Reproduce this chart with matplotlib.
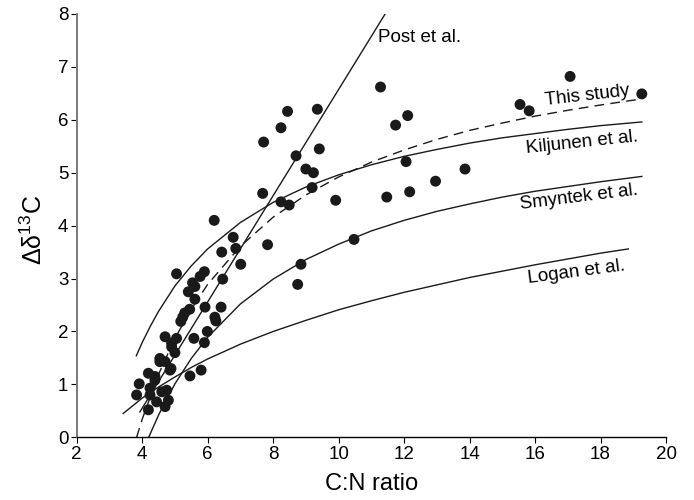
import matplotlib
matplotlib.use("Agg")
import matplotlib.pyplot as plt

cn_obs = [11.28, 8.44, 9.35, 8.24, 7.71, 12.11, 11.74, 9.41, 8.70, 9.00, 9.23,
          12.06, 13.86, 12.96, 12.17, 11.47, 9.19, 7.68, 8.24, 8.49, 9.91,
          6.78, 6.86, 6.43, 7.83, 7.01, 10.47, 8.85, 8.75, 6.46, 6.41,
          17.07, 19.26, 15.54, 15.82, 6.20,
          5.05, 5.90, 5.77, 5.54, 5.61, 5.41, 5.61, 5.92, 5.24, 5.18, 6.22, 6.25,
          5.30, 5.45, 5.99, 5.90, 5.58, 4.70, 5.05, 4.90, 4.90, 5.00, 4.54, 4.70,
          4.54, 4.88, 4.85, 4.19, 4.39, 4.39, 5.46, 5.80, 3.91, 3.83, 4.24, 4.19,
          4.70, 4.60, 4.80, 4.44, 4.24, 4.75]
d13c_obs = [6.62, 6.16, 6.20, 5.85, 5.58, 6.08, 5.90, 5.45, 5.32, 5.07, 5.00,
            5.21, 5.07, 4.84, 4.64, 4.54, 4.72, 4.61, 4.45, 4.39, 4.48,
            3.78, 3.57, 3.50, 3.64, 3.27, 3.74, 3.27, 2.89, 2.99, 2.46,
            6.82, 6.49, 6.29, 6.17, 4.10,
            3.09, 3.13, 3.04, 2.92, 2.85, 2.75, 2.61, 2.46, 2.27, 2.19, 2.27, 2.20,
            2.35, 2.42, 2.00, 1.79, 1.87, 1.90, 1.87, 1.78, 1.71, 1.60, 1.49, 1.43,
            1.43, 1.30, 1.27, 1.21, 1.15, 1.08, 1.16, 1.27, 1.01, 0.80, 0.80, 0.52,
            0.58, 0.86, 0.70, 0.67, 0.93, 0.89]

# model curves, points
post_cn = [3.93, 11.42]
post_d = [0.48, 8.0]

study_cn = [3.83, 4.0, 4.5, 5.0, 5.5, 6.0, 7.0, 8.0, 9.0, 10.0, 11.0, 12.0,
            13.0, 14.0, 15.0, 16.0, 17.0, 18.0, 19.2]
study_d = [0.0, 0.34, 1.19, 1.87, 2.42, 2.89, 3.61, 4.16, 4.58, 4.92, 5.20,
           5.43, 5.63, 5.80, 5.94, 6.07, 6.18, 6.28, 6.39]

kil_cn = [3.82, 4.0, 4.25, 4.5, 5.0, 5.5, 6.0, 7.0, 8.0, 9.0, 10.0, 11.0,
          12.0, 13.0, 14.0, 15.0, 16.0, 17.0, 18.0, 19.26]
kil_d = [1.54, 1.79, 2.10, 2.38, 2.86, 3.24, 3.56, 4.06, 4.44, 4.73, 4.96,
         5.15, 5.31, 5.44, 5.56, 5.66, 5.74, 5.82, 5.89, 5.96]

smy_cn = [4.2, 4.5, 5.0, 5.5, 6.0, 7.0, 8.0, 9.0, 10.0, 11.0, 12.0, 13.0,
          14.0, 15.0, 16.0, 17.0, 18.0, 19.26]
smy_d = [0.0, 0.42, 1.01, 1.49, 1.89, 2.52, 2.99, 3.36, 3.65, 3.90, 4.10,
         4.27, 4.41, 4.54, 4.65, 4.74, 4.83, 4.93]

log_cn = [3.42, 4.0, 4.5, 5.0, 5.5, 6.0, 7.0, 8.0, 9.0, 10.0, 11.0, 12.0,
          13.0, 14.0, 15.0, 16.0, 17.0, 18.0, 18.85]
log_d = [0.45, 0.74, 0.95, 1.14, 1.32, 1.48, 1.76, 2.00, 2.21, 2.41, 2.58,
         2.74, 2.88, 3.02, 3.14, 3.26, 3.37, 3.48, 3.56]

plt.rcParams["font.family"] = ["Liberation Sans", "DejaVu Sans"]
plt.rcParams["mathtext.fontset"] = "custom"
plt.rcParams["mathtext.rm"] = "Liberation Sans"
plt.rcParams["mathtext.it"] = "Liberation Sans:italic"

fig = plt.figure(figsize=(6.94, 5.0), dpi=100)
ax = fig.add_axes([0.1105, 0.1254, 0.8492, 0.8466])

lw = 1.0
ax.plot(post_cn, post_d, color="#1a1a1a", lw=lw)
ax.plot(study_cn, study_d, color="#1a1a1a", lw=lw, linestyle=(0, (7, 4.5)))
ax.plot(kil_cn, kil_d, color="#1a1a1a", lw=lw)
ax.plot(smy_cn, smy_d, color="#1a1a1a", lw=lw)
ax.plot(log_cn, log_d, color="#1a1a1a", lw=lw)
ax.scatter(cn_obs, d13c_obs, s=62, color="#1a1a1a", edgecolors="none", zorder=3)

fs = 13.5
ax.text(11.2, 7.55, "Post et al.", fontsize=fs, ha="left", va="center")
ax.text(17.58, 6.45, "This study", fontsize=fs, ha="center", va="center", rotation=6.5)
ax.text(17.44, 5.56, "Kiljunen et al.", fontsize=fs, ha="center", va="center", rotation=6)
ax.text(17.35, 4.53, "Smyntek et al.", fontsize=fs, ha="center", va="center", rotation=7)
ax.text(17.25, 3.13, "Logan et al.", fontsize=fs, ha="center", va="center", rotation=7.5)

ax.set_xlim(2, 20)
ax.set_ylim(0, 8)
ax.set_xticks(range(2, 21, 2))
ax.set_yticks(range(0, 9))
ax.tick_params(labelsize=13.5, length=4, width=0.8, direction="out", pad=2)

ax.spines["top"].set_visible(False)
ax.spines["right"].set_visible(False)
ax.spines["left"].set_color("#7a7a7a")
ax.spines["left"].set_linewidth(1.4)
ax.spines["bottom"].set_linewidth(1.0)

ax.set_xlabel("C:N ratio", fontsize=17)
ax.set_ylabel("Δδ$^{13}$C", fontsize=18)
ax.xaxis.set_label_coords(0.5, -0.085)
ax.yaxis.set_label_coords(-0.05, 0.49)

fig.savefig("out.png", dpi=100)
